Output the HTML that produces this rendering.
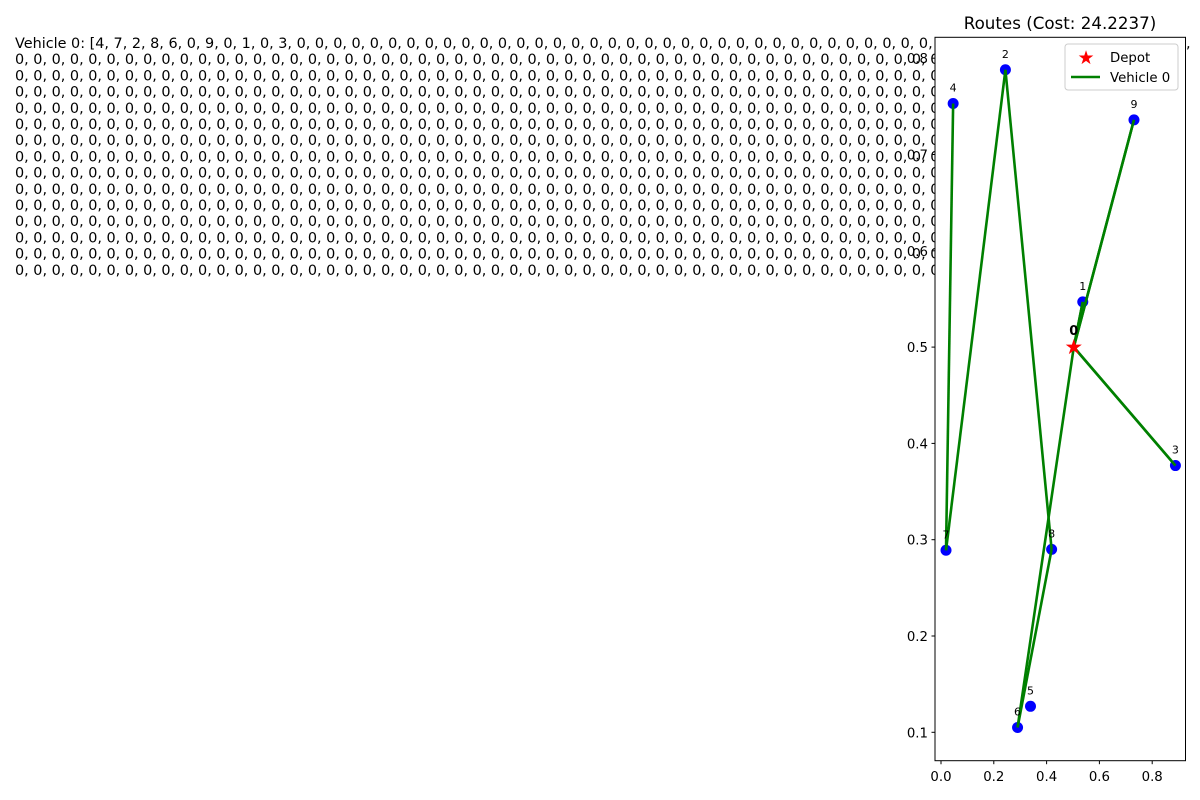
<!DOCTYPE html>
<html><head><meta charset="utf-8"><style>
html,body{margin:0;padding:0;background:#fff;width:1200px;height:800px;overflow:hidden}
svg text{font-family:"DejaVu Sans","Liberation Sans",sans-serif}
</style></head><body>
<svg id="fig" width="1200" height="800" xmlns="http://www.w3.org/2000/svg">
<defs><clipPath id="tclip"><rect x="0" y="0" width="1186" height="800"/></clipPath></defs>
<g id="textblock" clip-path="url(#tclip)"></g>
<text x="1186" y="48" font-size="14.4">,</text>
<rect x="935" y="37.3" width="250.5" height="723.4" fill="#fff"/>
<g id="plot"></g>
<rect x="935" y="37.3" width="250.5" height="723.4" fill="none" stroke="#000" stroke-width="1"/>
<text x="1060" y="29" font-size="16.7" text-anchor="middle">Routes (Cost: 24.2237)</text>
<g>
<rect x="1065" y="44" width="113" height="46" rx="3" fill="#fff" fill-opacity="0.8" stroke="#ccc"/>
<text x="1086" y="64" font-size="19" fill="red" text-anchor="middle">★</text>
<text x="1110" y="62" font-size="13.3">Depot</text>
<line x1="1071" y1="77" x2="1100" y2="77" stroke="green" stroke-width="2.5"/>
<text x="1110" y="82" font-size="13.3">Vehicle 0</text>
</g>
</svg>
<script>
const nodeIds=[0,1,2,3,4,5,6,7,8,9];
const nodeX=[0.503,0.537,0.244,0.888,0.046,0.339,0.290,0.019,0.419,0.731];
const nodeY=[0.500,0.547,0.788,0.377,0.753,0.127,0.105,0.289,0.290,0.736];
const route=[4,7,2,8,6,0,9,0,1,0,3,0];
const xTicks=[0.0,0.2,0.4,0.6,0.8];
const yTicks=[0.1,0.2,0.3,0.4,0.5,0.6,0.7,0.8];
const NS="http://www.w3.org/2000/svg";
function sx(v){return 941+v*264;}
function sy(v){return 732.3-(v-0.1)*963;}
function mk(tag,attrs,parent,txt){const e=document.createElementNS(NS,tag);for(const k in attrs)e.setAttribute(k,attrs[k]);if(txt!==undefined)e.textContent=txt;parent.appendChild(e);return e;}
const tb=document.getElementById('textblock');
const zeros=Array(70).fill('0').join(', ');
for(let i=0;i<15;i++){
  const s=i===0?'Vehicle 0: [4, 7, 2, 8, 6, 0, 9, 0, 1, 0, 3, '+zeros:zeros+', 0,';
  const t=mk('text',{x:15,y:48+i*16.2,'font-size':14.4},tb,s);
  
  
}
const p=document.getElementById('plot');
xTicks.forEach(v=>{
  const l=mk('line',{x1:sx(v),x2:sx(v),y1:760.7,y2:764.2,stroke:'#000'},p);
  
  
  const t=mk('text',{x:sx(v),y:781,'font-size':13.3,'text-anchor':'middle'},p,v.toFixed(1));
  
  
});
yTicks.forEach(v=>{
  const l=mk('line',{x1:931.5,x2:935,y1:sy(v),y2:sy(v),stroke:'#000'},p);
  
  
  const t=mk('text',{x:928,y:sy(v)+5,'font-size':13.3,'text-anchor':'end'},p,v.toFixed(1));
  
  
});
nodeIds.forEach(i=>{
  if(i===0)return;
  const d=mk('circle',{cx:sx(nodeX[i]),cy:sy(nodeY[i]),r:5.5,fill:'blue'},p);
  
  
});
for(let k=0;k<route.length-1;k++){
  const a=route[k],b=route[k+1];
  const l=mk('line',{x1:sx(nodeX[a]),y1:sy(nodeY[a]),x2:sx(nodeX[b]),y2:sy(nodeY[b]),stroke:'green','stroke-width':2.6},p);
  
  
}
nodeIds.forEach(i=>{
  if(i===0)return;
  const t=mk('text',{x:sx(nodeX[i]),y:sy(nodeY[i])-12,'font-size':11,'text-anchor':'middle'},p,String(i));
  
  
});
const dep=mk('text',{x:sx(nodeX[0]),y:sy(nodeY[0])+7,'font-size':21,fill:'red','text-anchor':'middle'},p,'★');


const dl=mk('text',{x:sx(nodeX[0]),y:sy(nodeY[0])-12,'font-size':13,'font-weight':'bold','text-anchor':'middle'},p,'0');


</script>
</body></html>
